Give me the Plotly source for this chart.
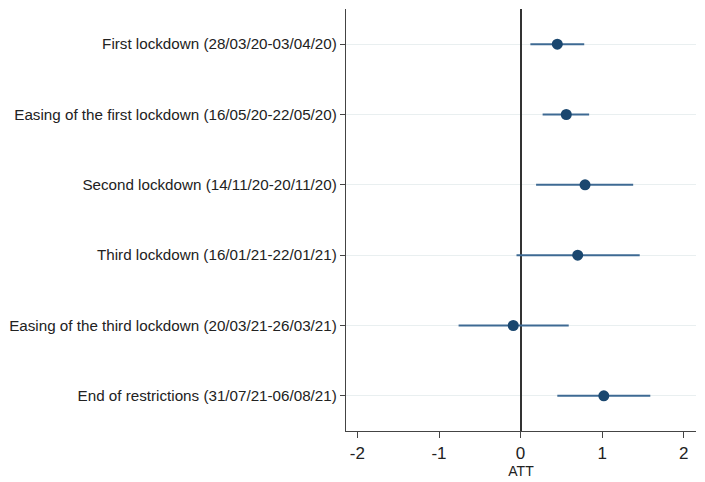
import plotly.graph_objects as go

labels = [
    "First lockdown (28/03/20-03/04/20)",
    "Easing of the first lockdown (16/05/20-22/05/20)",
    "Second lockdown (14/11/20-20/11/20)",
    "Third lockdown (16/01/21-22/01/21)",
    "Easing of the third lockdown (20/03/21-26/03/21)",
    "End of restrictions (31/07/21-06/08/21)",
]
att = [0.45, 0.56, 0.79, 0.70, -0.09, 1.02]
ci_low = [0.12, 0.27, 0.19, -0.05, -0.76, 0.45]
ci_high = [0.78, 0.84, 1.38, 1.46, 0.59, 1.59]
x_ticks = [-2, -1, 0, 1, 2]
x_ticktext = ["-2", "-1", "0", "1", "2"]

pos = list(range(1, len(labels) + 1))
navy = "#1a476f"

fig = go.Figure()
fig.add_trace(go.Scatter(
    x=att, y=pos, mode="markers",
    marker=dict(color=navy, size=11),
    error_x=dict(type="data", symmetric=False,
                 array=[h - a for h, a in zip(ci_high, att)],
                 arrayminus=[a - l for a, l in zip(att, ci_low)],
                 color="#3e6a93", thickness=2, width=0),
    showlegend=False,
))

fig.update_layout(
    width=705, height=482,
    margin=dict(l=346, r=9, t=9, b=51),
    plot_bgcolor="white", paper_bgcolor="white",
    font=dict(family="Liberation Sans, Arial", color="#222"),
)
fig.update_xaxes(
    range=[-2.14, 2.15], tickvals=x_ticks, ticktext=x_ticktext,
    showgrid=False, showline=True, linecolor="#444", linewidth=1.3,
    ticks="outside", ticklen=6, tickcolor="#444",
    zeroline=True, zerolinecolor="#333", zerolinewidth=1.5,
    tickfont=dict(size=17), automargin=False,
    title=dict(text="ATT", font=dict(size=14), standoff=0),
)
fig.update_yaxes(
    range=[6.5, 0.5], tickvals=pos, ticktext=labels,
    showgrid=True, gridcolor="#e9eff0", gridwidth=1,
    showline=True, linecolor="#444", linewidth=1.3,
    ticks="outside", ticklen=5, tickcolor="#444",
    zeroline=False, tickfont=dict(size=15.2), automargin=False,
)

fig.write_html("out.html", config={"displayModeBar": False},
               post_script="document.body.style.margin='0';")
